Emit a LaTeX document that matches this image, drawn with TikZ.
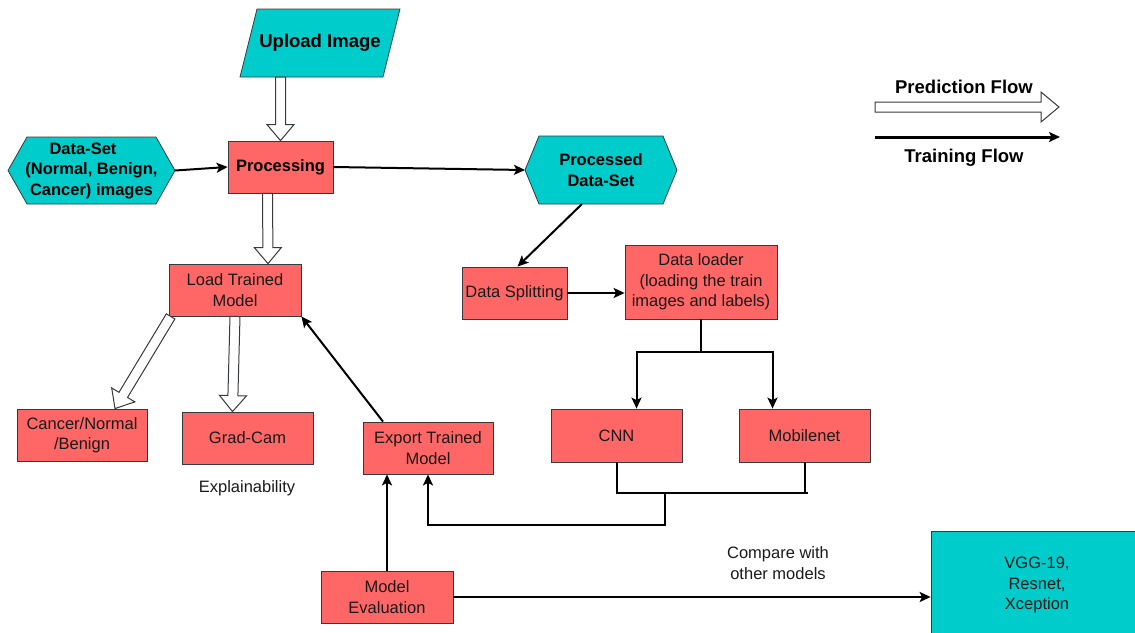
\documentclass[tikz,border=0pt]{standalone}
\usepackage{fontspec}
\setmainfont{Liberation Sans}
\usetikzlibrary{calc,arrows.meta,backgrounds}

\definecolor{boxred}{HTML}{FF6666}
\definecolor{boxcyan}{HTML}{00CCCC}
\definecolor{edge}{HTML}{36393D}
\definecolor{ink}{HTML}{1A1A1A}

\newcommand\regtext{\fontsize{16.5}{20.5}\selectfont}
\newcommand\boldtext{\fontsize{16.5}{20.5}\selectfont\bfseries}
\newcommand\bigbold{\fontsize{18.5}{22}\selectfont\bfseries}

% hollow block arrow from #1 to #2, head length #3, head half-width #4
\newcommand\hollowarrow[4]{%
  \coordinate (ha-neck) at ($(#2)!#3!(#1)$);
  \draw[blockarrow]
    ($(#1)!5pt!90:(#2)$) -- ($(ha-neck)!5pt!90:(#2)$) --
    ($(ha-neck)!#4!90:(#2)$) -- (#2) --
    ($(ha-neck)!#4!-90:(#2)$) -- ($(ha-neck)!5pt!-90:(#2)$) --
    ($(#1)!5pt!-90:(#2)$) -- cycle;}

% pointed hexagon behind node #1, side indent #2
\newcommand\hexagonfill[2]{%
  \filldraw[shapefill] (#1.west) -- ($(#1.north west)+(#2,0)$) --
    ($(#1.north east)+(-#2,0)$) -- (#1.east) --
    ($(#1.south east)+(-#2,0)$) -- ($(#1.south west)+(#2,0)$) -- cycle;}

\tikzset{
  box/.style={draw=edge, fill=boxred, line width=0.8pt, minimum height=52pt,
    inner sep=0pt, align=center, font=\regtext, text=ink},
  shapebox/.style={inner sep=0pt, outer sep=0pt, align=center, text=black},
  shapefill/.style={fill=boxcyan, draw=edge, line width=0.8pt},
  blockarrow/.style={draw=edge, fill=white, line width=1pt, line join=miter},
  plainline/.style={draw=black, line width=2pt},
  train/.style={plainline, -{Stealth[length=11pt,width=10pt,inset=2.5pt]}},
}

\begin{document}
\begin{tikzpicture}[x=1pt,y=-1pt]
\useasboundingbox (0,0) rectangle (1135,632);

% ---- input and preprocessing ----
\node[shapebox, minimum width=160pt, minimum height=68pt, font=\bigbold] (upload) at (320,43) {Upload Image};
\node[shapebox, minimum width=167pt, minimum height=67pt, font=\boldtext] (ds) at (91.5,170.5)
  {Data-Set\hspace*{17pt}\\(Normal, Benign,\\Cancer) images};
\node[box, minimum width=105pt, font=\boldtext, text=black] (proc) at (280.5,167) {Processing};
\node[shapebox, minimum width=152pt, minimum height=68pt, font=\boldtext] (pds) at (601,170) {Processed\\Data-Set};

% ---- prediction side ----
\node[box, minimum width=132pt] (load) at (235,290) {Load Trained\\Model};
\node[box, minimum width=130pt] (cancer) at (82,435) {Cancer/Normal\\/Benign};
\node[box, minimum width=131pt] (grad) at (247.5,438) {Grad-Cam};
\node[font=\regtext, text=ink] (explain) at (247,488) {Explainability};

% ---- training side ----
\node[box, minimum width=105pt] (split) at (514.5,293) {Data Splitting};
\node[box, minimum width=152pt, minimum height=74pt] (loader) at (701,282)
  {Data loader\\(loading the train\\images and labels)};
\node[box, minimum width=131pt, minimum height=53pt] (cnn) at (616.5,435.5) {CNN};
\node[box, minimum width=131pt, minimum height=53pt] (mob) at (804.5,435.5) {Mobilenet};
\node[box, minimum width=130pt] (export) at (428,448) {Export Trained\\Model};
\node[box, minimum width=132pt] (meval) at (387,597) {Model\\Evaluation};
\node[box, fill=boxcyan, minimum width=212pt, minimum height=108pt] (vgg) at (1037,585)
  {VGG-19,\\Resnet,\\Xception};
\node[font=\regtext, text=ink, align=center] (compare) at (778,563) {Compare with\\other models};

% ---- legend ----
\node[font=\bigbold] (predlabel) at (964,87) {Prediction Flow};
\node[font=\bigbold] (trainlabel) at (964,158) {Training Flow};
\coordinate (lp1) at (875,107);
\coordinate (lp2) at (1059,107);
\coordinate (lt1) at (875,137);
\coordinate (lt2) at (1060,137);

% ---- filled outlines of the non-rectangular shapes ----
\begin{scope}[on background layer]
  \filldraw[shapefill] ($(upload.north west)+(17,0)$) -- (upload.north east) --
    ($(upload.south east)+(-17,0)$) -- (upload.south west) -- cycle;
  \hexagonfill{ds}{19}
  \hexagonfill{pds}{14}
\end{scope}

% ---- prediction flow (hollow arrows) ----
\coordinate (h1a) at (proc.north |- upload.south);
\coordinate (h1b) at (proc.north);
\hollowarrow{h1a}{h1b}{16pt}{13.5pt}
\coordinate (h2a) at ($(proc.south)+(-13,0)$);
\coordinate (h2b) at ($(load.north)+(33,0)$);
\hollowarrow{h2a}{h2b}{16pt}{13.5pt}
\coordinate (h3a) at ($(load.south west)+(2,0)$);
\coordinate (h3b) at ($(cancer.north)+(33,0)$);
\hollowarrow{h3a}{h3b}{16pt}{13.5pt}
\coordinate (h4a) at (load.south);
\coordinate (h4b) at ($(grad.north)+(-15,0)$);
\hollowarrow{h4a}{h4b}{16pt}{13.5pt}
\hollowarrow{lp1}{lp2}{18pt}{15pt}

% ---- training flow (solid arrows) ----
\draw[train] (ds.east) -- (proc.west);
\draw[train] (proc.east) -- (pds.west);
\draw[train] ($(pds.south)+(-19,0)$) -- ($(split.north)+(3,0)$);
\draw[train] (split.east) -- (split.east -| loader.west);
\draw[plainline] (loader.south) -- ++(0,33) coordinate (fork);
\draw[train] (fork) -| ($(cnn.north)+(20,0)$);
\draw[train] (fork) -| ($(mob.north)+(-32,0)$);
\draw[plainline] (cnn.south) -- ++(0,31) coordinate (join) -- ($(join -| mob.south)+(3,0)$);
\draw[plainline] (mob.south) -- (mob.south |- join);
\coordinate (joindrop) at ($(join)+(48.5,0)$);
\draw[train] (joindrop) -- ++(0,32) -| (export.south);
\draw[train] (meval.north) -- (meval.north |- export.south);
\draw[train] ($(export.north)+(-45,0)$) -- (load.south east);
\draw[train] (meval.east) -- (meval.east -| vgg.west);
\draw[train, line width=3pt] (lt1) -- (lt2);
\end{tikzpicture}
\end{document}
